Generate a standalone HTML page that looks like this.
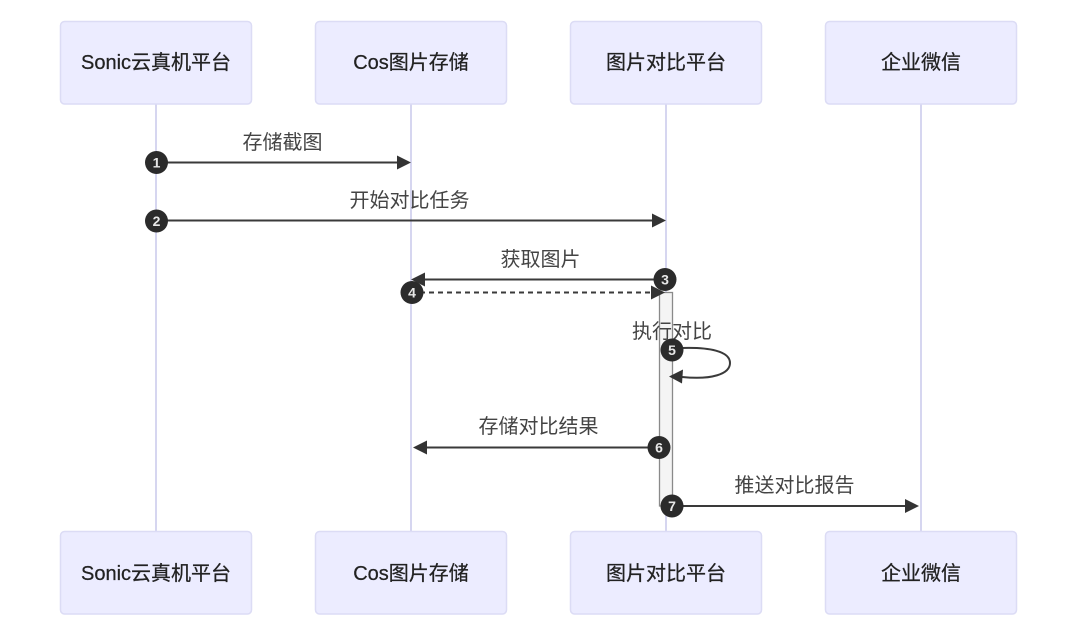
<!DOCTYPE html>
<html lang="zh">
<head>
<meta charset="utf-8">
<style>
html,body{margin:0;padding:0;background:#fff;width:1080px;height:638px;overflow:hidden}
svg{display:block}
text{font-family:"Liberation Sans","Noto Sans CJK SC",sans-serif;fill:#333;text-anchor:middle}
.a{font-size:20px;fill:#222;stroke:#222;stroke-width:.25}
.m{font-size:20px;fill:#444}
.n{font-size:14px;font-weight:bold;fill:#e8e8e8}
.b{fill:#ececff;stroke:#dcdcf5;stroke-width:1.5}
.l{stroke:#d6d6f0;stroke-width:2;fill:none}
.c{stroke:#3a3a3a;stroke-width:2;fill:none}
.h{fill:#333}
.d{fill:#2b2b2b}
</style>
</head>
<body>
<svg width="1080" height="638" viewBox="0 0 1080 638" xmlns="http://www.w3.org/2000/svg">
<path class="l" d="M156 104V531M411 104V531M666 104V531M921 104V531"/>
<rect x="60.5" y="21.5" width="191" height="82.5" rx="4" class="b"/>
<rect x="315.5" y="21.5" width="191" height="82.5" rx="4" class="b"/>
<rect x="570.5" y="21.5" width="191" height="82.5" rx="4" class="b"/>
<rect x="825.5" y="21.5" width="191" height="82.5" rx="4" class="b"/>
<rect x="60.5" y="531.5" width="191" height="82.5" rx="4" class="b"/>
<rect x="315.5" y="531.5" width="191" height="82.5" rx="4" class="b"/>
<rect x="570.5" y="531.5" width="191" height="82.5" rx="4" class="b"/>
<rect x="825.5" y="531.5" width="191" height="82.5" rx="4" class="b"/>
<text class="a" x="156" y="69">Sonic云真机平台</text>
<text class="a" x="411" y="69">Cos图片存储</text>
<text class="a" x="666" y="69">图片对比平台</text>
<text class="a" x="921" y="69">企业微信</text>
<text class="a" x="156" y="580">Sonic云真机平台</text>
<text class="a" x="411" y="580">Cos图片存储</text>
<text class="a" x="666" y="580">图片对比平台</text>
<text class="a" x="921" y="580">企业微信</text>
<rect x="659.5" y="292.5" width="13" height="213.500" fill="#f4f4f4" stroke="#8a8a8a" stroke-width="1.3"/>
<text class="m" x="282.500" y="149">存储截图</text>
<text class="m" x="409.500" y="207">开始对比任务</text>
<text class="m" x="540.500" y="266">获取图片</text>
<text class="m" x="672" y="338">执行对比</text>
<text class="m" x="538.500" y="433">存储对比结果</text>
<text class="m" x="794.500" y="492">推送对比报告</text>
<path class="c" d="M156 162.500H398"/>
<path class="h" d="M397 155.500L411 162.500L397 169.500Z"/>
<path class="c" d="M156 220.500H653"/>
<path class="h" d="M652 213.500L666 220.500L652 227.500Z"/>
<path class="c" d="M666 279.500H424"/>
<path class="h" d="M425 272.500L411 279.500L425 286.500Z"/>
<path class="c" d="M411 292.500H650" stroke-dasharray="5 4"/>
<path class="h" d="M651 285.500L665 292.500L651 299.500Z"/>
<path class="c" d="M672 348.500C712 346 730 352 730 363C730 374 712 380 682 377"/>
<path class="h" d="M683 369.500L669 376.500L682 383.500Z"/>
<path class="c" d="M659 447.500H426"/>
<path class="h" d="M427 440.500L413 447.500L427 454.500Z"/>
<path class="c" d="M672 506H906"/>
<path class="h" d="M905 499L919 506L905 513Z"/>
<circle class="d" cx="156.500" cy="162.500" r="11.500"/><text class="n" x="156.500" y="167.500">1</text>
<circle class="d" cx="156.500" cy="221" r="11.500"/><text class="n" x="156.500" y="226">2</text>
<circle class="d" cx="665" cy="279.500" r="11.500"/><text class="n" x="665" y="284.500">3</text>
<circle class="d" cx="412" cy="292.500" r="11.500"/><text class="n" x="412" y="297.500">4</text>
<circle class="d" cx="672" cy="350" r="11.500"/><text class="n" x="672" y="355">5</text>
<circle class="d" cx="659" cy="447.500" r="11.500"/><text class="n" x="659" y="452.500">6</text>
<circle class="d" cx="672" cy="506" r="11.500"/><text class="n" x="672" y="511">7</text>
</svg>
</body>
</html>
